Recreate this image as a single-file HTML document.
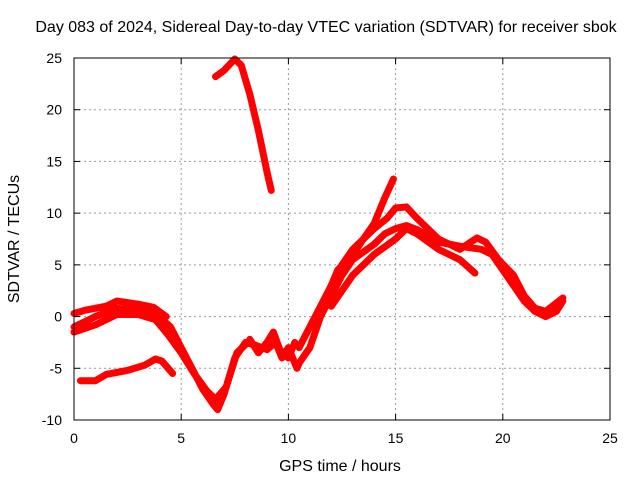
<!DOCTYPE html>
<html><head><meta charset="utf-8"><style>
body{margin:0;background:#fff;}
svg text{font-family:"Liberation Sans",sans-serif;font-size:14px;fill:#000;}
svg text.big{font-size:16px;}
</style></head><body>
<svg id="chart" width="640" height="480" xmlns="http://www.w3.org/2000/svg">
<text class="big" x="326" y="32" text-anchor="middle">Day 083 of 2024, Sidereal Day-to-day VTEC variation (SDTVAR) for receiver sbok</text>
<g id="grid"></g>
<g id="series"></g>
<rect x="74" y="58" width="536" height="362" fill="none" stroke="#000" stroke-width="1"/>
<g id="ticks"></g>
<text class="big" x="340" y="471" text-anchor="middle">GPS time / hours</text>
<text class="big" x="19" y="239" text-anchor="middle" transform="rotate(-90 19 239)">SDTVAR / TECUs</text>
</svg>
<script>
const xTicks=[0,5,10,15,20,25];
const yTicks=[-10,-5,0,5,10,15,20,25];
const sA_x=[6.6,7.0,7.5,7.8,8.2,8.6,9.0,9.2];
const sA_y=[23.2,23.8,24.9,24.3,21.5,18,14,12.2];
const sB_x=[0.3,1,1.5,2.5,3.3,3.8,4.1,4.6];
const sB_y=[-6.2,-6.2,-5.6,-5.2,-4.7,-4.1,-4.3,-5.5];
const sC_x=[0,0.5,1,2,3,3.8,4.5,5,5.5,6,6.5,6.7,7.0,7.5,8,8.5,9,9.4,9.7,10,10.4,10.5,11,11.5,12,12.5,13,14,14.5,15,15.5,16,17,18,19,19.5,20,20.5,21,21.5,22,22.5,22.8];
const sC_y=[-1,-0.5,0,0.8,0.6,0.3,-1,-3,-5,-7,-8.5,-9,-7.5,-4,-2.5,-2.8,-3.2,-2.5,-4,-3,-5,-4.5,-3,0,2,4,5.5,7,8,8.5,8.8,8.4,7.2,6.8,6.5,6,4.5,3,1.5,0.5,0,0.5,1.5];
const sD_x=[0,0.5,1.5,2,3,3.7,4.3];
const sD_y=[0.3,0.6,1.0,1.5,1.2,0.9,0];
const sE_x=[10.5,11,11.5,12,12.5,13,13.5,14,14.5,14.9];
const sE_y=[-3,-1,1,3,5,6.5,7.5,9,11.5,13.3];
const sF_x=[11.8,12.3,13,13.5,14,14.6,15,15.5,16,16.5,17,18,18.5,18.8,19.2,19.8,20.5,21,21.5,22,22.8];
const sF_y=[2,4.5,6,7.5,8.5,9.5,10.5,10.6,9.5,8.5,7.5,6.5,7.2,7.6,7.2,5.5,4,2,0.8,0.5,1.8];
const sG_x=[12,13,14,15,15.5,16,17,18,18.7];
const sG_y=[1,4,6,7.5,8.5,8,6.5,5.5,4.2];
const sH_x=[8.2,8.6,9.0,9.3,9.6,10.0,10.3];
const sH_y=[-2.2,-3.5,-2.5,-1.5,-3.2,-4,-2.5];
const sI_x=[0,1,2,3,3.8,4.4,5,5.6,6.2,6.6,7.1,7.6,8.1];
const sI_y=[-1.5,-0.8,0.2,0.2,-0.3,-1.8,-3.5,-5.5,-7.2,-8,-6.8,-3.5,-2.5];
const series=[[sA_x,sA_y],[sB_x,sB_y],[sC_x,sC_y],[sD_x,sD_y],[sE_x,sE_y],[sF_x,sF_y],[sG_x,sG_y],[sH_x,sH_y],[sI_x,sI_y]];
const X=v=>74+v*(536/25), Y=v=>420-(v+10)*(362/35);
const NS="http://www.w3.org/2000/svg";
const grid=document.getElementById('grid'),ticks=document.getElementById('ticks'),sg=document.getElementById('series');
function mk(t,a,p){const e=document.createElementNS(NS,t);for(const k in a)e.setAttribute(k,a[k]);p.appendChild(e);return e;}
xTicks.forEach(t=>{
 if(t>0&&t<25){const g=mk('line',{x1:X(t),x2:X(t),y1:58,y2:420,stroke:'#999','stroke-dasharray':'2,3'},grid);
 
 }
 const l=mk('text',{x:X(t),y:443,'text-anchor':'middle'},ticks);l.textContent=t;
 
 
 mk('line',{x1:X(t),x2:X(t),y1:420,y2:414,stroke:'#000'},ticks);
 mk('line',{x1:X(t),x2:X(t),y1:58,y2:64,stroke:'#000'},ticks);
});
yTicks.forEach(t=>{
 if(t>-10&&t<25){const g=mk('line',{x1:74,x2:610,y1:Y(t),y2:Y(t),stroke:'#999','stroke-dasharray':'2,3'},grid);
 
 }
 const l=mk('text',{x:62,y:Y(t)+5,'text-anchor':'end'},ticks);l.textContent=t;
 
 
 mk('line',{x1:74,x2:80,y1:Y(t),y2:Y(t),stroke:'#000'},ticks);
 mk('line',{x1:604,x2:610,y1:Y(t),y2:Y(t),stroke:'#000'},ticks);
});
series.forEach((s,i)=>{
 const pts=s[0].map((x,j)=>X(x)+','+Y(s[1][j])).join(' ');
 const p=mk('polyline',{points:pts,fill:'none',stroke:'#f00','stroke-width':7,'stroke-linejoin':'round','stroke-linecap':'round'},sg);
 
 
});
</script>
</body></html>
